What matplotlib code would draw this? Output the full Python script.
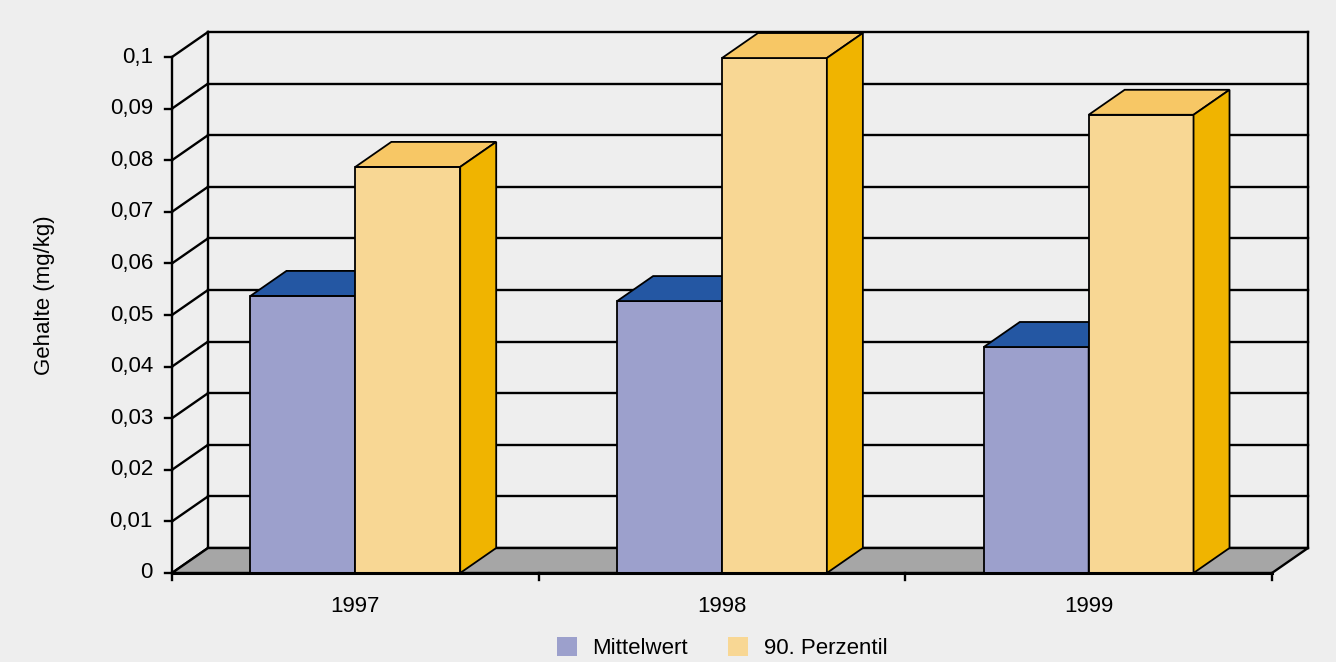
import matplotlib.pyplot as plt
from matplotlib.patches import Polygon, Patch

plt.rcParams["font.family"] = ["Liberation Sans", "DejaVu Sans"]

years = ["1997", "1998", "1999"]
mittelwert = [0.0537, 0.0527, 0.0438]
perzentil_90 = [0.0787, 0.0998, 0.0888]
y_ticks = [0.0, 0.01, 0.02, 0.03, 0.04, 0.05, 0.06, 0.07, 0.08, 0.09, 0.1]
y_labels = ["0", "0,01", "0,02", "0,03", "0,04", "0,05", "0,06", "0,07", "0,08", "0,09", "0,1"]

BG = "#eeeeee"
FLOOR = "#a6a6a6"
MW_FRONT, MW_TOP, MW_SIDE = "#9ca0cc", "#2457a3", "#1f4c96"
P90_FRONT, P90_TOP, P90_SIDE = "#f8d794", "#f7c765", "#f0b400"

W, H = 1336, 662
fig = plt.figure(figsize=(W / 100, H / 100), dpi=100)
fig.patch.set_facecolor(BG)
ax = fig.add_axes([0, 0, 1, 1])
ax.set_facecolor(BG)
ax.axis("off")

# front plane: x = 0..3 categories, y = 0..0.1; depth pushes back/up
X0, X1, Y0, YTOP = 172, 1272, 573, 57
ux = (X1 - X0) / len(years)
uy = (Y0 - YTOP) / 0.1
ax.set_xlim(-X0 / ux, (W - X0) / ux)
ax.set_ylim(-(H - Y0) / uy, Y0 / uy)
DX, DY = 36 / ux, 25 / uy
n = len(years)
lw_grid = 1.7
lw_bar = 1.3
fs = 16

# back wall gridlines, side wall diagonals, y ticks
for t in y_ticks:
    ax.plot([DX, n + DX], [t + DY, t + DY], color="black", lw=lw_grid, zorder=1)
    ax.plot([0, DX], [t, t + DY], color="black", lw=lw_grid, zorder=1)
    ax.plot([-7 / ux, 0], [t, t], color="black", lw=lw_grid, zorder=1)
ax.plot([DX, DX], [DY, 0.1 + DY], color="black", lw=lw_grid, zorder=1)
ax.plot([n + DX, n + DX], [DY, 0.1 + DY], color="black", lw=lw_grid, zorder=1)
ax.plot([0, 0], [0, 0.1], color="black", lw=lw_grid, zorder=1)

# floor
ax.add_patch(Polygon([(0, 0), (n, 0), (n + DX, DY), (DX, DY)], closed=True,
                     facecolor=FLOOR, edgecolor="black", lw=lw_grid, zorder=2))
ax.plot([0, n], [0, 0], color="black", lw=2.2, zorder=6)
for i in range(n + 1):
    ax.plot([i, i], [0, -7 / uy], color="black", lw=lw_grid, zorder=6)


def box(x, w, h, front, top, side):
    kw = dict(closed=True, edgecolor="black", lw=lw_bar, zorder=4)
    ax.add_patch(Polygon([(x, 0), (x + w, 0), (x + w, h), (x, h)], facecolor=front, **kw))
    ax.add_patch(Polygon([(x, h), (x + w, h), (x + w + DX, h + DY), (x + DX, h + DY)],
                         facecolor=top, **kw))
    ax.add_patch(Polygon([(x + w, 0), (x + w + DX, DY), (x + w + DX, h + DY), (x + w, h)],
                         facecolor=side, **kw))


bw = 0.286
for i in range(n):
    box(i + 0.5 - bw, bw, mittelwert[i], MW_FRONT, MW_TOP, MW_SIDE)
    box(i + 0.5, bw, perzentil_90[i], P90_FRONT, P90_TOP, P90_SIDE)

# labels
for t, lab in zip(y_ticks, y_labels):
    ax.text(-19 / ux, t, lab, ha="right", va="center", fontsize=fs)
for i, yr in enumerate(years):
    ax.text(i + 0.5, -33 / uy, yr, ha="center", va="center", fontsize=fs)
ax.text((45 - X0) / ux, (Y0 - 295) / uy, "Gehalte (mg/kg)", rotation=90,
        ha="center", va="center", fontsize=fs)

handles = [Patch(facecolor=MW_FRONT, label="Mittelwert"),
           Patch(facecolor=P90_FRONT, label="90. Perzentil")]
ax.legend(handles=handles, loc="center", bbox_to_anchor=(n / 2, (Y0 - 648) / uy),
          bbox_transform=ax.transData, ncol=2, frameon=False, fontsize=fs,
          handlelength=0.9, handleheight=0.9, handletextpad=0.7, columnspacing=1.8)

fig.savefig("out.png", dpi=100, facecolor=BG)
